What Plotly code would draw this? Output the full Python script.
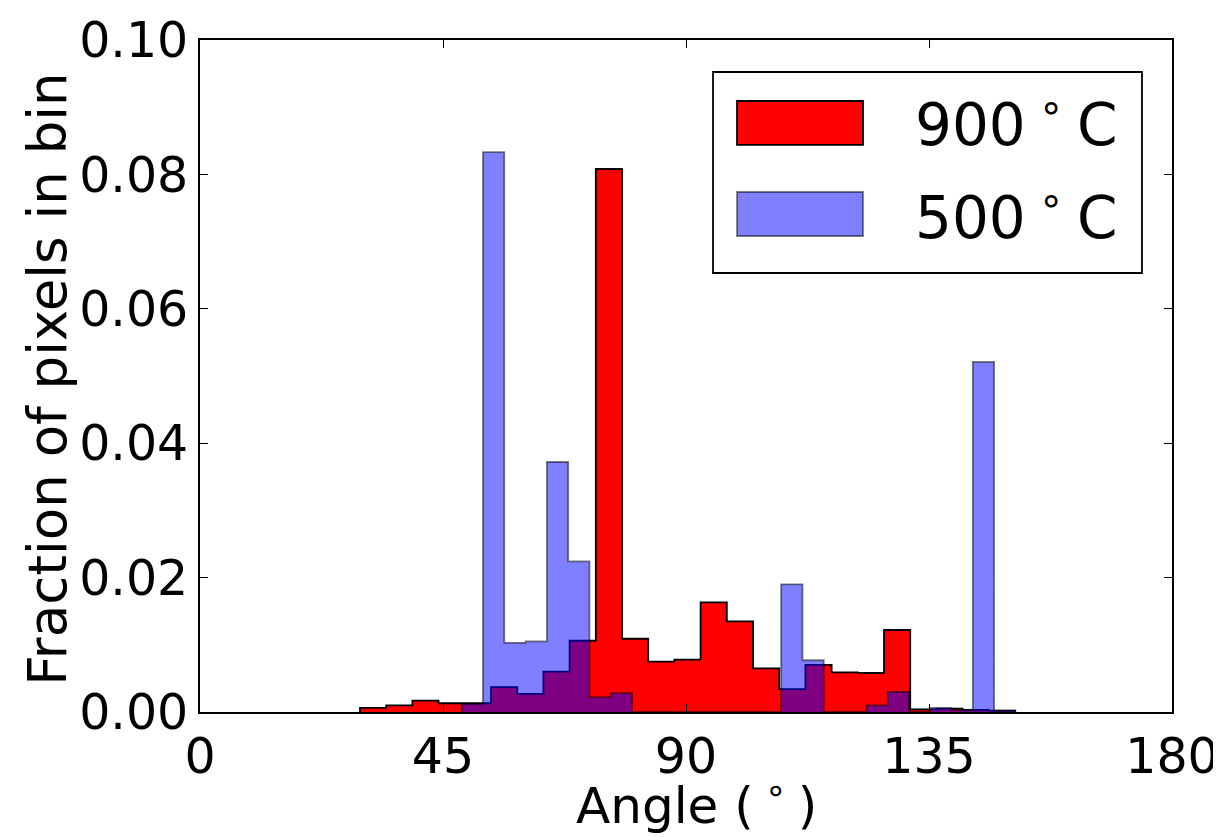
import numpy as np
import plotly.graph_objects as go

# ---- data ----
# 900 C histogram: 25 bins starting at 29.63 deg, width 4.852 deg
red_start = 29.63
red_width = 4.852
red_values = [0.0006, 0.0010, 0.0017, 0.0013, 0.0013, 0.0037, 0.0027, 0.0060,
              0.0106, 0.0808, 0.0109, 0.0075, 0.0078, 0.0163, 0.0135, 0.0065,
              0.0034, 0.0070, 0.0059, 0.0058, 0.0122, 0.0004, 0.0005, 0.0003,
              0.0002]

# 500 C histogram: 26 bins starting at 48.46 deg, width 3.944 deg
blue_start = 48.46
blue_width = 3.944
blue_values = [0.0012, 0.0833, 0.0103, 0.0105, 0.0372, 0.0224, 0.0022, 0.0028,
               0.0, 0.0, 0.0, 0.0, 0.0, 0.0, 0.0, 0.0190, 0.0077, 0.0, 0.0,
               0.0010, 0.0030, 0.0, 0.0006, 0.0003, 0.0521, 0.0002]

labels = ["900<sup> ∘ </sup>C", "500<sup> ∘ </sup>C"]
x_ticks = [0, 45, 90, 135, 180]
y_ticks = [0.00, 0.02, 0.04, 0.06, 0.08, 0.10]


def step_xy(start, width, values):
    n = len(values)
    edges = [start + i * width for i in range(n + 1)]
    xs = [edges[0]] + edges + [edges[-1]]
    ys = [0.0] + list(values) + [values[-1], 0.0]
    return xs, ys


FONT = "DejaVu Sans"

fig = go.Figure()
rx, ry = step_xy(red_start, red_width, red_values)
fig.add_trace(go.Scatter(x=rx, y=ry, mode="lines", line=dict(shape="hv", color="black", width=1.8),
                         fill="tozeroy", fillcolor="rgb(255,0,0)", name="900 C", showlegend=False,
                         hoverinfo="skip"))
bx, by = step_xy(blue_start, blue_width, blue_values)
fig.add_trace(go.Scatter(x=bx, y=by, mode="lines", line=dict(shape="hv", color="rgba(0,0,0,0.5)", width=1.8),
                         fill="tozeroy", fillcolor="rgba(0,0,255,0.5)", name="500 C", showlegend=False,
                         hoverinfo="skip"))

axis_common = dict(showline=True, linecolor="black", linewidth=1.8, mirror="allticks",
                   ticks="inside", ticklen=8, tickwidth=1.2, tickcolor="black",
                   showgrid=False, zeroline=False, automargin=False, ticklabeloverflow="allow",
                   tickfont=dict(family=FONT, size=49, color="black"))

fig.update_xaxes(range=[0, 180], tickvals=x_ticks, ticktext=[str(t) for t in x_ticks], **axis_common)
fig.update_yaxes(range=[0, 0.10], tickvals=y_ticks, ticktext=[f"{t:.2f}" for t in y_ticks], **axis_common)

# legend drawn as a framed box
shapes = [
    dict(type="rect", xref="paper", yref="paper", x0=0.5278, x1=0.9691, y0=0.6533, y1=0.9524,
         line=dict(color="black", width=1.8), fillcolor="white", layer="above"),
    dict(type="rect", xref="paper", yref="paper", x0=0.5525, x1=0.6821, y0=0.8438, y1=0.9092,
         line=dict(color="black", width=1.8), fillcolor="rgb(255,0,0)", layer="above"),
    dict(type="rect", xref="paper", yref="paper", x0=0.5525, x1=0.6821, y0=0.7083, y1=0.7738,
         line=dict(color="rgba(0,0,0,0.5)", width=1.8), fillcolor="rgba(0,0,255,0.5)", layer="above"),
]
annotations = [
    dict(xref="paper", yref="paper", x=0.734, y=0.8795, xanchor="left", yanchor="middle",
         text=labels[0], showarrow=False, font=dict(family=FONT, size=58, color="black")),
    dict(xref="paper", yref="paper", x=0.734, y=0.7411, xanchor="left", yanchor="middle",
         text=labels[1], showarrow=False, font=dict(family=FONT, size=58, color="black")),
    dict(xref="paper", yref="paper", x=0.511, y=-0.135, xanchor="center", yanchor="middle",
         text="Angle (<sup> ∘ </sup>)", showarrow=False, font=dict(family=FONT, size=50, color="black")),
    dict(xref="paper", yref="paper", x=-0.157, y=0.495, xanchor="center", yanchor="middle",
         textangle=-90, text="Fraction of pixels in bin", showarrow=False,
         font=dict(family=FONT, size=53, color="black")),
]

# the page body adds an 8px offset, so the figure is sized/margined to compensate
fig.update_layout(width=1213, height=829, margin=dict(l=192, r=49, t=32, b=125),
                  paper_bgcolor="white", plot_bgcolor="white",
                  shapes=shapes, annotations=annotations, showlegend=False)

fig.write_html("out.html")
